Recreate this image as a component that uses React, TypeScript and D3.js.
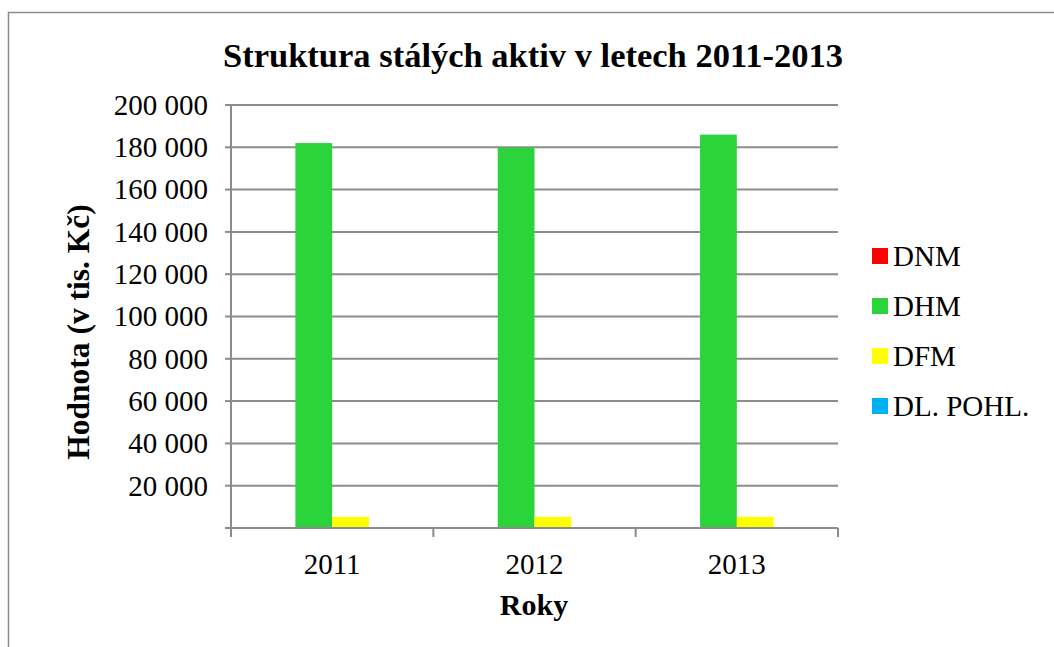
import React from "react";
import * as d3 from "d3";

const years = ["2011", "2012", "2013"];
const seriesNames = ["DNM", "DHM", "DFM", "DL. POHL."];
const seriesColors = ["#FF0000", "#2BD43B", "#FFFF00", "#00B0F0"];
const DNM = [250, 250, 250];
const DHM = [182000, 179800, 186000];
const DFM = [5300, 5300, 5300];
const DLPOHL = [0, 0, 0];
const yTicks = [20000, 40000, 60000, 80000, 100000, 120000, 140000, 160000, 180000, 200000];

const W = 1054;
const H = 647;
const FONT = "'Liberation Serif', 'Times New Roman', serif";

export default function App() {
  const left = 231, right = 838, top = 105, bottom = 528;
  const x = d3.scaleBand().domain(years).range([left, right]).paddingInner(0).paddingOuter(0);
  const inner = d3.scaleBand().domain(seriesNames).range([0, x.bandwidth()]).paddingInner(0).paddingOuter(0.75);
  const y = d3.scaleLinear().domain([0, 200000]).range([bottom, top]);
  const data = [DNM, DHM, DFM, DLPOHL];
  const fmt = (v: number) => d3.format(",")(v).replace(/,/g, " ");
  const catTicks = [...years.map((yr) => x(yr) as number), right];

  return (
    <svg width={W} height={H} style={{ position: "absolute", left: 0, top: 0, background: "#fff" }}>
      <rect x={8.5} y={12.5} width={1100} height={700} fill="#fff" stroke="#8c8c8c" strokeWidth={1.5} />
      <text x={533} y={67} textAnchor="middle" fontFamily={FONT} fontWeight="bold" fontSize={34.5}>
        Struktura stálých aktiv v letech 2011-2013
      </text>
      {yTicks.map((t) => (
        <line key={"g" + t} x1={left} x2={right} y1={y(t)} y2={y(t)} stroke="#8c8c8c" strokeWidth={2} />
      ))}
      {data.map((vals, si) =>
        vals.map((v, ci) => (
          <rect
            key={si + "-" + ci}
            x={(x(years[ci]) as number) + (inner(seriesNames[si]) as number)}
            y={y(v)}
            width={inner.bandwidth()}
            height={bottom - y(v)}
            fill={seriesColors[si]}
          />
        ))
      )}
      <line x1={left} x2={left} y1={top} y2={bottom} stroke="#8c8c8c" strokeWidth={2} />
      <line x1={left - 6} x2={right} y1={bottom} y2={bottom} stroke="#8c8c8c" strokeWidth={2} />
      {yTicks.map((t) => (
        <line key={"t" + t} x1={left - 6} x2={left} y1={y(t)} y2={y(t)} stroke="#8c8c8c" strokeWidth={2} />
      ))}
      {catTicks.map((cx, i) => (
        <line key={"c" + i} x1={cx} x2={cx} y1={bottom} y2={bottom + 9} stroke="#8c8c8c" strokeWidth={2} />
      ))}
      {yTicks.map((t) => (
        <text key={"l" + t} x={208} y={y(t)} dy="0.34em" textAnchor="end" fontFamily={FONT} fontSize={29}>
          {fmt(t)}
        </text>
      ))}
      {years.map((yr) => (
        <text key={"x" + yr} x={(x(yr) as number) + x.bandwidth() / 2} y={574} textAnchor="middle" fontFamily={FONT} fontSize={29}>
          {yr}
        </text>
      ))}
      <text x={534} y={615} textAnchor="middle" fontFamily={FONT} fontWeight="bold" fontSize={30}>
        Roky
      </text>
      <text transform="translate(89,332) rotate(-90)" textAnchor="middle" fontFamily={FONT} fontWeight="bold" fontSize={31.5}>
        Hodnota (v tis. Kč)
      </text>
      {seriesNames.map((n, i) => (
        <g key={n} transform={`translate(872,${256 + i * 50})`}>
          <rect x={0} y={-8} width={16} height={16} fill={seriesColors[i]} />
          <text x={21} y={0} dy="0.34em" fontFamily={FONT} fontSize={29}>
            {n}
          </text>
        </g>
      ))}
    </svg>
  );
}
